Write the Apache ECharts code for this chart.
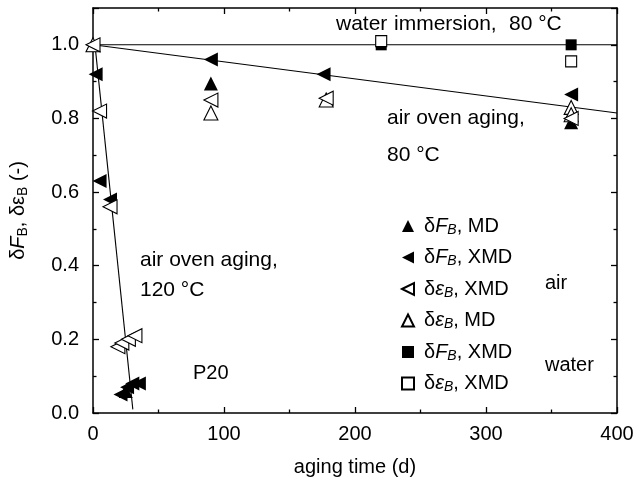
<!DOCTYPE html>
<html><head><meta charset="utf-8">
<script src="https://cdn.jsdelivr.net/npm/echarts@6/dist/echarts.min.js"></script>
<style>html,body{margin:0;padding:0;background:#fff}#c{width:633px;height:478px}</style>
</head><body><div id="c"></div>
<script>
// ---- data ----
const xTicks = [0, 100, 200, 300, 400];
const yTicks = [0.0, 0.2, 0.4, 0.6, 0.8, 1.0];
// δF_B, MD (air) filled up-triangles
const fbMD_x = [0, 90, 365, 25];
const fbMD_y = [1.0, 0.895, 0.79, 0.06];
// δF_B, XMD (air) filled left-triangles
const fbXMD_x = [0, 2, 5, 13, 90, 176, 365, 21, 26, 30, 35];
const fbXMD_y = [1.0, 0.92, 0.63, 0.58, 0.96, 0.92, 0.865, 0.05, 0.07, 0.08, 0.08];
// δε_B, XMD (air) open left-triangles
const ebXMD_x = [0, 5, 13, 90, 178, 365, 19, 22, 27, 32];
const ebXMD_y = [1.0, 0.82, 0.56, 0.85, 0.855, 0.80, 0.18, 0.19, 0.20, 0.21];
// δε_B, MD (air) open up-triangles
const ebMD_x = [0, 90, 178, 365, 365];
const ebMD_y = [1.0, 0.815, 0.85, 0.83, 0.81];
// δF_B, XMD (water) filled squares
const fbW_x = [220, 365];
const fbW_y = [1.0, 1.0];
// δε_B, XMD (water) open squares
const ebW_x = [220, 365];
const ebW_y = [1.01, 0.955];
// fit lines
const lineWater_x = [0, 400], lineWater_y = [1.0, 1.0];
const lineAir80_x = [0, 400], lineAir80_y = [1.0, 0.815];
const lineAir120_x = [1.5, 30.4], lineAir120_y = [1.0, 0.01];

const zip = (xs, ys) => xs.map((x, i) => [x, ys[i]]);
const FONT = "'Liberation Sans', Arial, Helvetica, sans-serif";
const LEFT_TRI = 'path://M0,5L10,0L10,10Z';

const openStyle = {color: '#fff', borderColor: '#000', borderWidth: 1.1, opacity: 1};
const fillStyle = {color: '#000', opacity: 1};

const names = ['fbMD', 'fbXMD', 'ebXMD', 'ebMD', 'fbW', 'ebW'];
const legendText = {
  fbMD: '{p|}{n|δ}{i|F}{s|B}{n|, MD}',
  fbXMD: '{p|}{n|δ}{i|F}{s|B}{n|, XMD}',
  ebXMD: '{p|}{n|δ}{i|ε}{s|B}{n|, XMD}',
  ebMD: '{p|}{n|δ}{i|ε}{s|B}{n|, MD}',
  fbW: '{p|}{n|δ}{i|F}{s|B}{n|, XMD}',
  ebW: '{p|}{n|δ}{i|ε}{s|B}{n|, XMD}'
};

function sc(name, data, symbol, size, style, z) {
  return {name, type: 'scatter', data, symbol, symbolSize: size, itemStyle: style,
    z: z || 3, emphasis: {disabled: true}, animation: false};
}
function ln(data) {
  return {type: 'line', data, symbol: 'none', lineStyle: {color: '#000', width: 1.1},
    z: 2, animation: false, silent: true};
}
function txt(s, left, top, size) {
  return {type: 'text', left, top, style: {text: s, font: (size || 20) + 'px ' + FONT, fill: '#000'}};
}

const axisCommon = {
  axisLine: {show: true, onZero: false, lineStyle: {color: '#000', width: 1.5}},
  axisTick: {show: true, inside: true, length: 6, lineStyle: {color: '#000', width: 1.3}},
  minorTick: {show: true, splitNumber: 2, length: 3.5, lineStyle: {color: '#000', width: 1.3}},
  splitLine: {show: false}
};

const option = {
  backgroundColor: '#fff',
  animation: false,
  grid: {left: 93, right: 16, top: 8, bottom: 65, containLabel: false, outerBoundsMode: 'none'},
  xAxis: [
    Object.assign({type: 'value', min: 0, max: 400, interval: 100, position: 'bottom',
      name: 'aging time (d)', nameLocation: 'middle', nameGap: 44,
      nameTextStyle: {fontFamily: FONT, fontSize: 20, color: '#000'},
      axisLabel: {fontFamily: FONT, fontSize: 20, color: '#000', margin: 11,
        formatter: v => xTicks.includes(v) ? String(v) : ''}}, axisCommon),
    Object.assign({type: 'value', min: 0, max: 400, interval: 100, position: 'top',
      axisLabel: {show: false}}, axisCommon)
  ],
  yAxis: [
    Object.assign({type: 'value', min: 0, max: 1.1, interval: 0.2, position: 'left',
      name: '{n|δ}{i|F}{s|B}{n|, δε}{s|B}{n| (-)}', nameLocation: 'middle', nameGap: 63, nameRotate: 90,
      nameTextStyle: {fontFamily: FONT, fontSize: 20, color: '#000',
        rich: {
          n: {fontFamily: FONT, fontSize: 20, color: '#000', lineHeight: 24},
          i: {fontFamily: FONT, fontSize: 20, fontStyle: 'italic', color: '#000', lineHeight: 24},
          s: {fontFamily: FONT, fontSize: 14, color: '#000', lineHeight: 12, verticalAlign: 'bottom'}
        }},
      axisLabel: {fontFamily: FONT, fontSize: 20, color: '#000', margin: 14,
        formatter: v => { const t = yTicks.find(k => Math.abs(k - v) < 1e-6); return t === undefined ? '' : t.toFixed(1); }}},
      axisCommon),
    Object.assign({type: 'value', min: 0, max: 1.1, interval: 0.2, position: 'right',
      axisLabel: {show: false}}, axisCommon)
  ],
  legend: {
    data: names, orient: 'vertical', left: 396, top: 211, itemGap: 10.5,
    itemWidth: 12, itemHeight: 12, selectedMode: false,
    textStyle: {fontFamily: FONT, fontSize: 20, color: '#000',
      rich: {
        p: {width: 5, lineHeight: 22},
        n: {fontFamily: FONT, fontSize: 20, color: '#000', lineHeight: 22},
        i: {fontFamily: FONT, fontSize: 20, fontStyle: 'italic', color: '#000', lineHeight: 22},
        s: {fontFamily: FONT, fontSize: 14, fontStyle: 'italic', color: '#000', lineHeight: 12, verticalAlign: 'bottom'}
      }},
    formatter: name => legendText[name]
  },
  graphic: [
    txt('water', 336, 14, 21), txt('immersion,', 394, 14, 21), txt('80 °C', 509, 14, 21),
    txt('air oven aging,', 387, 108, 21),
    txt('80 °C', 387, 145, 21),
    txt('air oven aging,', 140, 250, 21),
    txt('120 °C', 140, 280, 21),
    txt('P20', 193, 363),
    txt('air', 545, 273),
    txt('water', 545, 355)
  ],
  series: [
    ln(zip(lineWater_x, lineWater_y)),
    ln(zip(lineAir80_x, lineAir80_y)),
    ln(zip(lineAir120_x, lineAir120_y)),
    sc('fbMD', zip(fbMD_x, fbMD_y), 'triangle', 14, fillStyle, 3),
    sc('ebMD', zip(ebMD_x, ebMD_y), 'triangle', 14, openStyle, 4),
    sc('fbXMD', zip(fbXMD_x, fbXMD_y), LEFT_TRI, 14, fillStyle, 5),
    sc('ebXMD', zip(ebXMD_x, ebXMD_y), LEFT_TRI, 14, openStyle, 6),
    sc('fbW', zip(fbW_x, fbW_y), 'rect', 11, fillStyle, 3),
    sc('ebW', zip(ebW_x, ebW_y), 'rect', 11, openStyle, 4)
  ]
};
const chart = echarts.init(document.getElementById('c'), null, {renderer: 'canvas'});
chart.setOption(option);
</script></body></html>
